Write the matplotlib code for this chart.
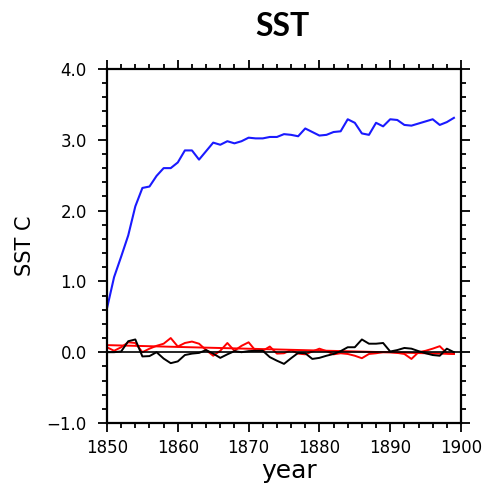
import matplotlib
matplotlib.use("Agg")
import matplotlib.pyplot as plt
from matplotlib.ticker import MultipleLocator

# years 1850-1899
years = list(range(1850, 1900))

# blue run (warming)
sst_blue = [0.62, 1.06, 1.35, 1.65, 2.06, 2.32, 2.34, 2.49, 2.60, 2.60,
            2.68, 2.85, 2.85, 2.72, 2.84, 2.96, 2.93, 2.98, 2.95, 2.98,
            3.03, 3.02, 3.02, 3.04, 3.04, 3.08, 3.07, 3.05, 3.16, 3.11,
            3.06, 3.07, 3.11, 3.12, 3.29, 3.24, 3.09, 3.07, 3.24, 3.19,
            3.29, 3.28, 3.21, 3.20, 3.23, 3.26, 3.29, 3.21, 3.25, 3.31]

# black run (control)
sst_black = [0.00, 0.00, 0.01, 0.155, 0.18, -0.06, -0.055, 0.00, -0.09, -0.155,
             -0.13, -0.04, -0.02, -0.01, 0.03, -0.02, -0.08, -0.03, 0.015, 0.00,
             0.015, 0.02, 0.02, -0.07, -0.12, -0.165, -0.085, -0.01, -0.015, -0.095,
             -0.08, -0.05, -0.025, 0.015, 0.07, 0.07, 0.18, 0.12, 0.12, 0.13,
             0.01, 0.03, 0.06, 0.05, 0.015, -0.015, -0.04, -0.05, 0.05, 0.00]

# red run
sst_red = [0.07, 0.02, 0.07, 0.14, 0.13, 0.00, 0.05, 0.09, 0.12, 0.20,
           0.08, 0.13, 0.15, 0.12, 0.03, -0.05, 0.02, 0.13, 0.02, 0.09,
           0.14, 0.02, 0.02, 0.08, -0.02, -0.015, 0.03, -0.02, -0.03, 0.01,
           0.05, 0.015, -0.03, -0.015, -0.025, -0.05, -0.085, -0.025, -0.015, 0.00,
           0.00, -0.01, -0.025, -0.095, 0.00, 0.02, 0.05, 0.085, -0.015, -0.025]

# red trend line end points
trend_years = [1850, 1899]
trend_vals = [0.10, -0.025]

fig = plt.figure(figsize=(4.9, 4.9), dpi=100)
ax = fig.add_axes([107/490, 1-423/490, 354/490, 354/490])

ax.plot(years, sst_blue, color="#1a1aff", lw=1.5)
ax.plot(trend_years, trend_vals, color="red", lw=1.4)
ax.plot(years, sst_red, color="red", lw=1.4)
ax.plot(years, sst_black, color="black", lw=1.4)
ax.axhline(0, color="black", lw=1.2)

ax.set_xlim(1850, 1900)
ax.set_ylim(-1.0, 4.0)
ax.xaxis.set_major_locator(MultipleLocator(10))
ax.xaxis.set_minor_locator(MultipleLocator(2))
ax.yaxis.set_major_locator(MultipleLocator(1.0))
ax.yaxis.set_minor_locator(MultipleLocator(0.2))
ax.set_yticks([-1, 0, 1, 2, 3, 4])
ax.set_yticklabels(["\u22121.0", "0.0", "1.0", "2.0", "3.0", "4.0"])

for s in ax.spines.values():
    s.set_linewidth(1.6)
ax.tick_params(which="both", direction="out", top=True, right=True, width=1.3)
ax.tick_params(which="major", length=6.5, labelsize=12, pad=5)
ax.tick_params(which="minor", length=3.5)
ax.tick_params(axis="y", which="major", pad=8)

fig.text(25/490, 1-246/490, "SST C", rotation=90, ha="center", va="center", fontsize=15)
fig.text(289/490, 1-478/490, "year", ha="center", va="baseline", fontsize=18)
fig.text(282/490, 1-27/490, "SST", ha="center", va="center", fontsize=23,
         fontweight="bold", family="Lato")

fig.savefig("out.png", dpi=100)
